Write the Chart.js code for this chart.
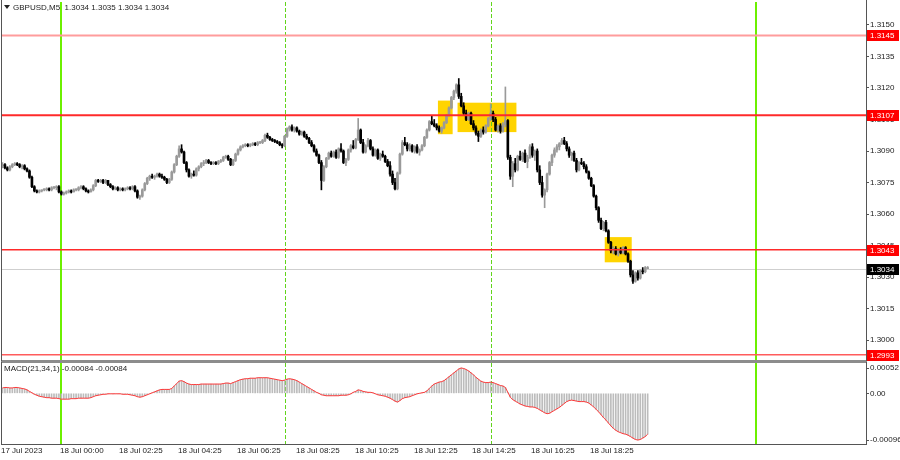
<!DOCTYPE html>
<html>
<head>
<meta charset="utf-8">
<script src="https://cdn.jsdelivr.net/npm/chart.js@4.4.0/dist/chart.umd.min.js"></script>
<style>
  body { margin: 0; background: #fff; }
  #wrap { position: relative; width: 900px; height: 460px; overflow: hidden; }
  canvas { position: absolute; left: 0; }
</style>
</head>
<body>
<div id="wrap">
  <canvas id="price" width="900" height="362" style="top:0"></canvas>
  <canvas id="macd" width="900" height="98" style="top:362px"></canvas>
</div>
<script>
// GBPUSD M5, 17 Jul 22:00 .. 18 Jul 20:20 (bar index 0..263)
const opens = [
  1.3083, 1.30835, 1.3082, 1.3081, 1.30825, 1.30835, 1.3084, 1.30835, 1.30825, 1.3083,
  1.30815, 1.30805, 1.30775, 1.3073, 1.3071, 1.30705, 1.3071, 1.30715, 1.30715, 1.3072,
  1.30715, 1.30725, 1.30725, 1.3073, 1.30705, 1.30695, 1.307, 1.30705, 1.3071, 1.30705,
  1.30715, 1.30715, 1.30725, 1.3073, 1.3072, 1.3071, 1.30705, 1.30715, 1.30735, 1.3076,
  1.30755, 1.3076, 1.3075, 1.3076, 1.3074, 1.3073, 1.3072, 1.30725, 1.30715, 1.3072,
  1.30715, 1.3072, 1.30725, 1.3072, 1.3073, 1.3071, 1.3068, 1.30685, 1.30715, 1.30745,
  1.3077, 1.3078, 1.30775, 1.3078, 1.3079, 1.3078, 1.30775, 1.30765, 1.3075, 1.30765,
  1.308, 1.30835, 1.30875, 1.3091, 1.30895, 1.30845, 1.3081, 1.3078, 1.3079, 1.30785,
  1.30815, 1.30825, 1.3084, 1.30845, 1.30855, 1.30845, 1.3084, 1.30845, 1.3084, 1.3085,
  1.30855, 1.3087, 1.30875, 1.3086, 1.30835, 1.30855, 1.30885, 1.30905, 1.3092, 1.30925,
  1.3093, 1.30925, 1.3093, 1.30935, 1.3093, 1.3094, 1.3094, 1.3095, 1.30975, 1.30965,
  1.30955, 1.3095, 1.30945, 1.3094, 1.3093, 1.30925, 1.3097, 1.31005, 1.31015, 1.3100,
  1.3101, 1.30995, 1.3098, 1.3099, 1.3097, 1.3096, 1.3094, 1.30925, 1.3090, 1.3088,
  1.30845, 1.3076, 1.30825, 1.30865, 1.3089, 1.30875, 1.30895, 1.3087, 1.3091, 1.3090,
  1.30845, 1.3086, 1.30905, 1.30925, 1.30915, 1.30955, 1.3100, 1.3094, 1.30895, 1.30925,
  1.3095, 1.3091, 1.3088, 1.30905, 1.30865, 1.30885, 1.30875, 1.3085, 1.3083, 1.3079,
  1.3075, 1.3072, 1.30795, 1.30885, 1.3094, 1.3093, 1.3091, 1.30925, 1.3090, 1.3092,
  1.30895, 1.30905, 1.30925, 1.30965, 1.3100, 1.3104, 1.3103, 1.3102, 1.3101, 1.30995,
  1.3101, 1.31035, 1.3107, 1.31105, 1.31155, 1.31185, 1.31215, 1.3116, 1.31115, 1.3108,
  1.3105, 1.3108, 1.3103, 1.3101, 1.30985, 1.3097, 1.3100, 1.3099, 1.3102, 1.31055,
  1.3108, 1.3105, 1.3100, 1.3102, 1.30995, 1.31025, 1.31045, 1.3087, 1.3078, 1.3084,
  1.3081, 1.30875, 1.3086, 1.3089, 1.3085, 1.3087, 1.3092, 1.3088, 1.3090, 1.3081,
  1.3075, 1.3069, 1.30715, 1.3079, 1.30845, 1.3088, 1.30905, 1.3092, 1.30935, 1.3095,
  1.30935, 1.3091, 1.3088, 1.3089, 1.30855, 1.3081, 1.30845, 1.3084, 1.30825, 1.3080,
  1.3077, 1.30735, 1.30685, 1.3063, 1.3057, 1.3053, 1.3056, 1.3052, 1.30465, 1.30425,
  1.30435, 1.3041, 1.30425, 1.30415, 1.3044, 1.3041, 1.30375, 1.3031, 1.3028, 1.3032,
  1.30295, 1.3033, 1.30325, 1.3034
];
const highs = [
  1.30845, 1.3084, 1.30825, 1.3083, 1.3084, 1.30845, 1.30845, 1.3084, 1.30835, 1.30835,
  1.3082, 1.3081, 1.3078, 1.30735, 1.30715, 1.30715, 1.30715, 1.3072, 1.30725, 1.30725,
  1.3073, 1.3073, 1.30735, 1.30735, 1.3071, 1.30705, 1.3071, 1.30715, 1.30715, 1.3072,
  1.3072, 1.3073, 1.30735, 1.30735, 1.30725, 1.30715, 1.3072, 1.3074, 1.30765, 1.30765,
  1.30765, 1.30765, 1.30765, 1.3076, 1.30745, 1.30735, 1.3073, 1.3073, 1.30725, 1.30725,
  1.30725, 1.3073, 1.3073, 1.30735, 1.30735, 1.30715, 1.3069, 1.3072, 1.3075, 1.30775,
  1.30785, 1.3079, 1.30785, 1.30795, 1.30795, 1.3079, 1.3078, 1.3077, 1.3077, 1.30805,
  1.3084, 1.3088, 1.30925, 1.3093, 1.3090, 1.3085, 1.30815, 1.30795, 1.30805, 1.3082,
  1.3083, 1.30845, 1.30855, 1.3086, 1.3086, 1.3085, 1.3085, 1.3085, 1.30855, 1.3086,
  1.30875, 1.3088, 1.3088, 1.30865, 1.3086, 1.3089, 1.3091, 1.30925, 1.3093, 1.30935,
  1.30935, 1.30935, 1.3094, 1.3094, 1.30945, 1.30945, 1.30955, 1.3098, 1.30985, 1.3097,
  1.3096, 1.30955, 1.3095, 1.30945, 1.30935, 1.30975, 1.3101, 1.3102, 1.31025, 1.31015,
  1.31015, 1.3100, 1.30995, 1.30995, 1.3098, 1.30965, 1.3095, 1.3093, 1.3091, 1.30885,
  1.30855, 1.3083, 1.3087, 1.30895, 1.3090, 1.3090, 1.30905, 1.30915, 1.30935, 1.30905,
  1.30865, 1.3091, 1.3093, 1.3095, 1.3096, 1.31055, 1.31005, 1.30955, 1.3093, 1.3096,
  1.30955, 1.3092, 1.3091, 1.3091, 1.3089, 1.3090, 1.3088, 1.3086, 1.3085, 1.30805,
  1.3077, 1.3080, 1.3089, 1.3095, 1.30965, 1.3094, 1.30935, 1.3093, 1.30925, 1.3093,
  1.3091, 1.3093, 1.3097, 1.31005, 1.31045, 1.31065, 1.3105, 1.3103, 1.3102, 1.31015,
  1.3104, 1.31075, 1.3111, 1.3116, 1.3119, 1.3122, 1.31245, 1.31175, 1.3113, 1.31095,
  1.31085, 1.31085, 1.31045, 1.3102, 1.30995, 1.31005, 1.31015, 1.31025, 1.3106, 1.31125,
  1.3109, 1.3106, 1.31025, 1.3103, 1.31035, 1.31205, 1.3105, 1.3088, 1.3085, 1.30865,
  1.3088, 1.3090, 1.30895, 1.30905, 1.3088, 1.3093, 1.30935, 1.30905, 1.3091, 1.3083,
  1.3078, 1.3072, 1.30795, 1.3085, 1.30885, 1.30915, 1.3093, 1.3094, 1.3096, 1.30965,
  1.30945, 1.3092, 1.30895, 1.3090, 1.30865, 1.3085, 1.30865, 1.3085, 1.30835, 1.30805,
  1.30775, 1.3074, 1.3069, 1.30635, 1.3058, 1.30565, 1.3057, 1.30525, 1.3047, 1.30445,
  1.30445, 1.30435, 1.3044, 1.30445, 1.30445, 1.30415, 1.3038, 1.3033, 1.30325, 1.3033,
  1.30335, 1.30345, 1.3035, 1.3035
];
const lows = [
  1.3082, 1.30815, 1.30805, 1.30805, 1.3082, 1.3083, 1.3083, 1.3082, 1.30815, 1.3081,
  1.3080, 1.3077, 1.30725, 1.30705, 1.3070, 1.3070, 1.30705, 1.3071, 1.3071, 1.3071,
  1.3071, 1.3072, 1.30715, 1.3070, 1.3069, 1.3069, 1.30695, 1.3070, 1.3070, 1.30705,
  1.3071, 1.3071, 1.3072, 1.30715, 1.30705, 1.3070, 1.30705, 1.3071, 1.3073, 1.3075,
  1.3075, 1.30745, 1.30745, 1.30735, 1.30725, 1.30715, 1.30715, 1.3071, 1.3071, 1.3071,
  1.3071, 1.30715, 1.30715, 1.30715, 1.30705, 1.30675, 1.3067, 1.3068, 1.3071, 1.3074,
  1.3076, 1.3077, 1.30765, 1.30775, 1.30775, 1.3077, 1.3076, 1.30745, 1.30745, 1.3076,
  1.30795, 1.3083, 1.3087, 1.3089, 1.3084, 1.3080, 1.30775, 1.3077, 1.3078, 1.3078,
  1.30805, 1.3082, 1.3083, 1.3084, 1.3084, 1.30835, 1.30835, 1.30835, 1.30835, 1.30845,
  1.3085, 1.30865, 1.30855, 1.3083, 1.3083, 1.3085, 1.3088, 1.3090, 1.30915, 1.3092,
  1.3092, 1.3092, 1.30925, 1.30925, 1.30925, 1.30935, 1.30935, 1.30945, 1.3096, 1.3095,
  1.30945, 1.3094, 1.30935, 1.30925, 1.30915, 1.3092, 1.30965, 1.30995, 1.30995, 1.3099,
  1.3099, 1.30975, 1.30975, 1.30965, 1.30955, 1.30935, 1.3092, 1.30895, 1.30875, 1.3084,
  1.30715, 1.30755, 1.3082, 1.3086, 1.3087, 1.3087, 1.30865, 1.30865, 1.30895, 1.3084,
  1.3083, 1.30855, 1.30895, 1.3091, 1.3091, 1.3095, 1.30935, 1.3089, 1.3089, 1.3092,
  1.30905, 1.30875, 1.30875, 1.3086, 1.30855, 1.3087, 1.30845, 1.30825, 1.3078, 1.3074,
  1.30715, 1.30715, 1.3079, 1.3088, 1.30925, 1.3090, 1.3090, 1.30895, 1.3089, 1.3089,
  1.3088, 1.3090, 1.3092, 1.3096, 1.30995, 1.31025, 1.31015, 1.3100, 1.3099, 1.30985,
  1.31005, 1.3103, 1.31065, 1.3110, 1.31145, 1.31175, 1.3115, 1.3111, 1.3107, 1.31045,
  1.31045, 1.31025, 1.3100, 1.30975, 1.30945, 1.30965, 1.3098, 1.30985, 1.31015, 1.31045,
  1.3104, 1.30995, 1.3099, 1.30985, 1.3099, 1.31015, 1.3086, 1.30765, 1.3073, 1.3080,
  1.30805, 1.30855, 1.3085, 1.30845, 1.3082, 1.30865, 1.3087, 1.30855, 1.3080, 1.3074,
  1.3068, 1.3063, 1.30705, 1.30785, 1.3083, 1.3087, 1.30895, 1.30905, 1.3093, 1.3093,
  1.3090, 1.3087, 1.30855, 1.3085, 1.3080, 1.30805, 1.30835, 1.30815, 1.30795, 1.30765,
  1.3073, 1.3068, 1.3062, 1.3056, 1.30525, 1.3052, 1.30515, 1.3046, 1.30415, 1.3041,
  1.30405, 1.3040, 1.3041, 1.3041, 1.30405, 1.3037, 1.3030, 1.3027, 1.30275, 1.30285,
  1.3029, 1.30315, 1.3032, 1.3034
];
const closes = [
  1.30835, 1.3082, 1.3081, 1.30825, 1.30835, 1.3084, 1.30835, 1.30825, 1.3083, 1.30815,
  1.30805, 1.30775, 1.3073, 1.3071, 1.30705, 1.3071, 1.30715, 1.30715, 1.3072, 1.30715,
  1.30725, 1.30725, 1.3073, 1.30705, 1.30695, 1.3070, 1.30705, 1.3071, 1.30705, 1.30715,
  1.30715, 1.30725, 1.3073, 1.3072, 1.3071, 1.30705, 1.30715, 1.30735, 1.3076, 1.30755,
  1.3076, 1.3075, 1.3076, 1.3074, 1.3073, 1.3072, 1.30725, 1.30715, 1.3072, 1.30715,
  1.3072, 1.30725, 1.3072, 1.3073, 1.3071, 1.3068, 1.30685, 1.30715, 1.30745, 1.3077,
  1.3078, 1.30775, 1.3078, 1.3079, 1.3078, 1.30775, 1.30765, 1.3075, 1.30765, 1.3080,
  1.30835, 1.30875, 1.3091, 1.30895, 1.30845, 1.3081, 1.3078, 1.3079, 1.30785, 1.30815,
  1.30825, 1.3084, 1.30845, 1.30855, 1.30845, 1.3084, 1.30845, 1.3084, 1.3085, 1.30855,
  1.3087, 1.30875, 1.3086, 1.30835, 1.30855, 1.30885, 1.30905, 1.3092, 1.30925, 1.3093,
  1.30925, 1.3093, 1.30935, 1.3093, 1.3094, 1.3094, 1.3095, 1.30975, 1.30965, 1.30955,
  1.3095, 1.30945, 1.3094, 1.3093, 1.30925, 1.3097, 1.31005, 1.31015, 1.3100, 1.3101,
  1.30995, 1.3098, 1.3099, 1.3097, 1.3096, 1.3094, 1.30925, 1.3090, 1.3088, 1.30845,
  1.3076, 1.30825, 1.30865, 1.3089, 1.30875, 1.30895, 1.3087, 1.3091, 1.3090, 1.30845,
  1.3086, 1.30905, 1.30925, 1.30915, 1.30955, 1.3100, 1.3094, 1.30895, 1.30925, 1.3095,
  1.3091, 1.3088, 1.30905, 1.30865, 1.30885, 1.30875, 1.3085, 1.3083, 1.3079, 1.3075,
  1.3072, 1.30795, 1.30885, 1.3094, 1.3093, 1.3091, 1.30925, 1.3090, 1.3092, 1.30895,
  1.30905, 1.30925, 1.30965, 1.3100, 1.3104, 1.3103, 1.3102, 1.3101, 1.30995, 1.3101,
  1.31035, 1.3107, 1.31105, 1.31155, 1.31185, 1.31215, 1.3116, 1.31115, 1.3108, 1.3105,
  1.3108, 1.3103, 1.3101, 1.30985, 1.3097, 1.3100, 1.3099, 1.3102, 1.31055, 1.3108,
  1.3105, 1.3100, 1.3102, 1.30995, 1.31025, 1.31045, 1.3087, 1.3078, 1.3084, 1.3081,
  1.30875, 1.3086, 1.3089, 1.3085, 1.3087, 1.3092, 1.3088, 1.3090, 1.3081, 1.3075,
  1.3069, 1.30715, 1.3079, 1.30845, 1.3088, 1.30905, 1.3092, 1.30935, 1.3095, 1.30935,
  1.3091, 1.3088, 1.3089, 1.30855, 1.3081, 1.30845, 1.3084, 1.30825, 1.3080, 1.3077,
  1.30735, 1.30685, 1.3063, 1.3057, 1.3053, 1.3056, 1.3052, 1.30465, 1.30425, 1.30435,
  1.3041, 1.30425, 1.30415, 1.3044, 1.3041, 1.30375, 1.3031, 1.3028, 1.3032, 1.30295,
  1.3033, 1.30325, 1.30345, 1.3034
];
const macd = [
  0.00011, 0.00012, 0.00012, 0.00011, 0.00011, 0.00012, 0.00012, 0.00011, 0.00010, 0.00009,
  0.00007, 0.00004, 0.00001, -0.00002, -0.00004, -0.00006, -0.00007, -0.00008, -0.00009, -0.00009,
  -0.00010, -0.00010, -0.00010, -0.00011, -0.00012, -0.00012, -0.00012, -0.00012, -0.00011, -0.00011,
  -0.00011, -0.00010, -0.00010, -0.00010, -0.00010, -0.00010, -0.00009, -0.00007, -0.00005, -0.00004,
  -0.00003, -0.00002, -0.00002, -0.00001, -0.00001, -0.00001, -0.00001, -0.00001, -0.00001, -0.00002,
  -0.00002, -0.00002, -0.00003, -0.00004, -0.00005, -0.00007, -0.00008, -0.00007, -0.00005, -0.00003,
  -0.00001, 0.00001, 0.00003, 0.00005, 0.00007, 0.00008, 0.00008, 0.00008, 0.00008, 0.00010,
  0.00015, 0.00020, 0.00025, 0.00026, 0.00024, 0.00021, 0.00019, 0.00018, 0.00018, 0.00018,
  0.00018, 0.00019, 0.00019, 0.00019, 0.00019, 0.00019, 0.00019, 0.00019, 0.00019, 0.00019,
  0.00020, 0.00021, 0.00021, 0.00020, 0.00022, 0.00024, 0.00026, 0.00028, 0.00029, 0.00030,
  0.00030, 0.00031, 0.00031, 0.00031, 0.00032, 0.00032, 0.00032, 0.00032, 0.00032, 0.00031,
  0.00030, 0.00029, 0.00028, 0.00027, 0.00026, 0.00027, 0.00029, 0.00030, 0.00029, 0.00028,
  0.00026, 0.00023, 0.00020, 0.00017, 0.00014, 0.00011, 0.00008, 0.00005, 0.00002, 0.00000,
  -0.00003, -0.00004, -0.00005, -0.00005, -0.00005, -0.00005, -0.00005, -0.00005, -0.00004, -0.00004,
  -0.00004, -0.00003, -0.00001, 0.00002, 0.00004, 0.00007, 0.00006, 0.00004, 0.00003, 0.00002,
  0.00002, 0.00001, -0.00001, -0.00003, -0.00004, -0.00005, -0.00006, -0.00008, -0.00010, -0.00013,
  -0.00016, -0.00018, -0.00015, -0.00011, -0.00009, -0.00008, -0.00007, -0.00005, -0.00003, -0.00001,
  0.00000, 0.00001, 0.00002, 0.00005, 0.00010, 0.00015, 0.00019, 0.00021, 0.00023, 0.00024,
  0.00026, 0.00030, 0.00034, 0.00038, 0.00042, 0.00046, 0.00050, 0.00052, 0.00051, 0.00049,
  0.00046, 0.00042, 0.00038, 0.00033, 0.00029, 0.00025, 0.00023, 0.00022, 0.00022, 0.00023,
  0.00022, 0.00020, 0.00018, 0.00016, 0.00015, 0.00012, 0.00002, -0.00008, -0.00013, -0.00016,
  -0.00019, -0.00022, -0.00024, -0.00026, -0.00027, -0.00028, -0.00028, -0.00029, -0.00031, -0.00034,
  -0.00037, -0.00040, -0.00042, -0.00041, -0.00038, -0.00035, -0.00032, -0.00029, -0.00025, -0.00021,
  -0.00017, -0.00015, -0.00014, -0.00015, -0.00016, -0.00017, -0.00017, -0.00017, -0.00018, -0.00020,
  -0.00024, -0.00028, -0.00033, -0.00038, -0.00044, -0.00050, -0.00055, -0.00061, -0.00067, -0.00072,
  -0.00076, -0.00079, -0.00081, -0.00083, -0.00084, -0.00086, -0.00089, -0.00092, -0.00095, -0.00096,
  -0.00095, -0.00092, -0.00089, -0.00084
];

const priceTicks = [1.3150, 1.3135, 1.3120, 1.3105, 1.3090, 1.3075, 1.3060, 1.3045, 1.3030, 1.3015, 1.3000];
const macdTicks = [0.00052, 0, -0.00096];
const timeLabels = ['17 Jul 2023', '18 Jul 00:00', '18 Jul 02:25', '18 Jul 04:25', '18 Jul 06:25',
  '18 Jul 08:25', '18 Jul 10:25', '18 Jul 12:25', '18 Jul 14:25', '18 Jul 16:25', '18 Jul 18:25'];
const timeLabelBars = [0, 24, 48, 72, 96, 120, 144, 168, 192, 216, 240];

const levelPrices = [1.3145, 1.3107, 1.3043, 1.2993];
const bidPrice = 1.3034;
const zoneFrom = [178, 186, 246];
const zoneTo = [183, 209, 256];
const zoneHigh = [1.3114, 1.3113, 1.3049];
const zoneLow = [1.3098, 1.3099, 1.3037];
const daySeparators = [24, 307];
const sessionLines = [115, 199];
const header = 'GBPUSD,M5  1.3034 1.3035 1.3034 1.3034';
const macdHeader = 'MACD(21,34,1) -0.00084 -0.00084';

// styles
const FONT = "'Liberation Sans', Arial, sans-serif";
const BULL = '#9a9a9a';
const BEAR = '#000000';
const LEVEL_COLORS = ['#ff9c9c', '#ff2a2a', '#ff2a2a', '#ff5c5c'];
const LEVEL_WIDTHS = [2, 2, 1.5, 1.5];
const X_MIN = -0.2, X_MAX = 352;

Chart.defaults.font.family = FONT;
Chart.defaults.font.size = 8;
Chart.defaults.color = '#222';

const candleColor = closes.map((c, i) => (c >= opens[i] ? BULL : BEAR));

function xScale() {
  return { type: 'linear', min: X_MIN, max: X_MAX, offset: false, grid: { offset: false }, display: false };
}

function rightAxis(min, max, ticks, fmt) {
  return {
    position: 'right', min, max,
    afterBuildTicks: axis => { axis.ticks = ticks.map(v => ({ value: v })); },
    afterFit: axis => { axis.width = 34; axis.paddingTop = 0; axis.paddingBottom = 0; },
    grid: { drawOnChartArea: false, drawTicks: true, tickLength: 3, color: '#555' },
    border: { display: false },
    ticks: { padding: 1, callback: fmt, font: { size: 8 }, color: '#222' }
  };
}

function vLines(chart) {
  const { ctx, chartArea: a, scales: { x } } = chart;
  ctx.save();
  ctx.lineWidth = 2;
  ctx.strokeStyle = '#6cf000';
  daySeparators.forEach(b => {
    const px = Math.round(x.getPixelForValue(b));
    ctx.beginPath(); ctx.moveTo(px, a.top); ctx.lineTo(px, a.bottom); ctx.stroke();
  });
  ctx.lineWidth = 1;
  ctx.strokeStyle = '#62d41c';
  ctx.setLineDash([4, 2]);
  sessionLines.forEach(b => {
    const px = Math.round(x.getPixelForValue(b)) + 0.5;
    ctx.beginPath(); ctx.moveTo(px, a.top); ctx.lineTo(px, a.bottom); ctx.stroke();
  });
  ctx.restore();
}

function frame(ctx, top, bottom) {
  ctx.save();
  ctx.strokeStyle = '#555';
  ctx.lineWidth = 1;
  ctx.beginPath();
  ctx.moveTo(1.5, top); ctx.lineTo(1.5, bottom);
  ctx.moveTo(866.5, top); ctx.lineTo(866.5, bottom);
  ctx.stroke();
  ctx.restore();
}

const pricePlugin = {
  id: 'priceDecor',
  beforeDatasetsDraw(chart) {
    const { ctx, scales: { x, y }, chartArea: a } = chart;
    ctx.save();
    ctx.fillStyle = '#ffd400';
    zoneFrom.forEach((b, k) => {
      const x0 = x.getPixelForValue(b - 0.5), x1 = x.getPixelForValue(zoneTo[k] + 0.5);
      const y0 = y.getPixelForValue(zoneHigh[k]), y1 = y.getPixelForValue(zoneLow[k]);
      ctx.fillRect(x0, y0, x1 - x0, y1 - y0);
    });
    ctx.strokeStyle = '#cfcfcf';
    ctx.lineWidth = 1;
    const by = Math.round(y.getPixelForValue(bidPrice)) + 0.5;
    ctx.beginPath(); ctx.moveTo(a.left, by); ctx.lineTo(a.right, by); ctx.stroke();
    ctx.restore();
    vLines(chart);
  },
  afterDatasetsDraw(chart) {
    const { ctx, scales: { y }, chartArea: a } = chart;
    ctx.save();
    levelPrices.forEach((p, k) => {
      const py = y.getPixelForValue(p);
      ctx.strokeStyle = LEVEL_COLORS[k];
      ctx.lineWidth = LEVEL_WIDTHS[k];
      ctx.beginPath(); ctx.moveTo(a.left, py); ctx.lineTo(a.right, py); ctx.stroke();
    });
    ctx.restore();
  },
  afterDraw(chart) {
    const { ctx, scales: { y } } = chart;
    ctx.save();
    const tag = (p, bg) => {
      const py = Math.round(y.getPixelForValue(p));
      ctx.fillStyle = bg;
      ctx.fillRect(867, py - 5, 32, 11);
      ctx.fillStyle = '#fff';
      ctx.font = '8px ' + FONT;
      ctx.textBaseline = 'middle';
      ctx.fillText(p.toFixed(4), 870, py + 0.5);
    };
    levelPrices.forEach(p => tag(p, '#ff0000'));
    tag(bidPrice, '#000000');
    // header
    ctx.fillStyle = '#222';
    ctx.beginPath(); ctx.moveTo(4, 5); ctx.lineTo(10, 5); ctx.lineTo(7, 9); ctx.closePath(); ctx.fill();
    ctx.font = '8px ' + FONT;
    ctx.textBaseline = 'middle';
    ctx.fillText(header, 13, 7.5);
    // pane separator
    ctx.fillStyle = '#8c8c8c';
    ctx.fillRect(1, 360, 866, 2);
    ctx.restore();
    frame(ctx, 0, 361);
  }
};

const macdPlugin = {
  id: 'macdDecor',
  beforeDatasetsDraw(chart) { vLines(chart); },
  afterDraw(chart) {
    const { ctx, scales: { x }, chartArea: a } = chart;
    ctx.save();
    ctx.fillStyle = '#8c8c8c';
    ctx.fillRect(1, 0, 866, 1);
    ctx.strokeStyle = '#555';
    ctx.lineWidth = 1;
    ctx.beginPath(); ctx.moveTo(1, a.bottom + 0.5); ctx.lineTo(867, a.bottom + 0.5); ctx.stroke();
    ctx.fillStyle = '#222';
    ctx.font = '8px ' + FONT;
    ctx.textBaseline = 'middle';
    ctx.fillText(macdHeader, 4, 7);
    timeLabels.forEach((t, k) => {
      ctx.fillText(t, Math.round(x.getPixelForValue(timeLabelBars[k])) - 1, 89);
    });
    ctx.restore();
    frame(ctx, 0, a.bottom + 1);
  }
};

const common = {
  responsive: false,
  animation: false,
  devicePixelRatio: 1,
  events: [],
  plugins: { legend: { display: false }, tooltip: { enabled: false } }
};

new Chart(document.getElementById('price'), {
  type: 'bar',
  data: {
    datasets: [
      {
        data: closes.map((c, i) => ({ x: i, y: [lows[i], highs[i]] })),
        backgroundColor: candleColor,
        barThickness: 1, grouped: false, borderWidth: 0, order: 2
      },
      {
        data: closes.map((c, i) => ({ x: i, y: [opens[i], c] })),
        backgroundColor: candleColor,
        barThickness: 2, grouped: false, borderWidth: 0, minBarLength: 1, order: 1
      }
    ]
  },
  options: {
    ...common,
    layout: { padding: { top: 2, left: 2, right: 0, bottom: 2 } },
    scales: {
      x: xScale(),
      y: rightAxis(1.299048, 1.316095, priceTicks, v => Number(v).toFixed(4))
    }
  },
  plugins: [pricePlugin]
});

new Chart(document.getElementById('macd'), {
  type: 'bar',
  data: {
    datasets: [
      {
        type: 'line',
        data: macd.map((v, i) => ({ x: i, y: v })),
        borderColor: '#ff3838', borderWidth: 1, pointRadius: 0, tension: 0, order: 0
      },
      {
        data: macd.map((v, i) => ({ x: i, y: v })),
        backgroundColor: '#bcbcbc',
        barThickness: 1, grouped: false, borderWidth: 0, order: 1
      }
    ]
  },
  options: {
    ...common,
    layout: { padding: { top: 1, left: 2, right: 0, bottom: 16 } },
    scales: {
      x: xScale(),
      y: rightAxis(-0.001042, 0.000623, macdTicks, v => (v === 0 ? '0.00' : Number(v).toFixed(5)))
    }
  },
  plugins: [macdPlugin]
});
</script>
</body>
</html>
